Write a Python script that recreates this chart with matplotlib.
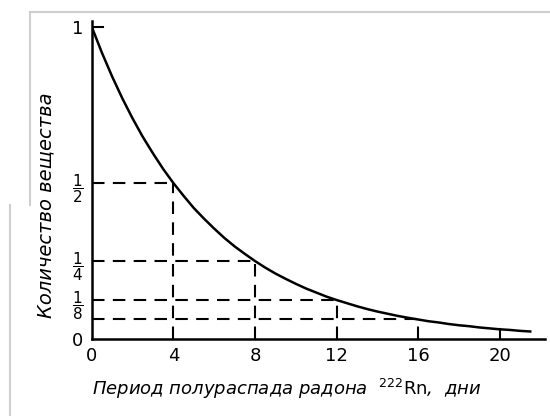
import matplotlib
matplotlib.use("Agg")
import matplotlib.pyplot as plt
from matplotlib.lines import Line2D

# кривая распада радона, точки (дни -> доля вещества)
days = [0, 0.5, 1, 1.5, 2, 2.5, 3, 3.5, 4, 4.5, 5, 5.5, 6, 6.5, 7, 7.5,
        8, 8.5, 9, 9.5, 10, 10.5, 11, 11.5, 12, 12.5, 13, 13.5, 14, 14.5,
        15, 15.5, 16, 16.5, 17, 17.5, 18, 18.5, 19, 19.5, 20, 20.5, 21, 21.5]
amount = [1.0, 0.917, 0.841, 0.771, 0.707, 0.648, 0.595, 0.545, 0.50,
          0.459, 0.420, 0.386, 0.354, 0.324, 0.297, 0.273, 0.25, 0.229,
          0.210, 0.193, 0.177, 0.162, 0.149, 0.136, 0.125, 0.115, 0.105,
          0.096, 0.088, 0.081, 0.074, 0.068, 0.0625, 0.057, 0.053, 0.048,
          0.044, 0.041, 0.037, 0.034, 0.031, 0.029, 0.026, 0.024]

# периоды полураспада и соответствующие доли
half_days = [4, 8, 12, 16]
half_vals = [1/2, 1/4, 1/8, 1/16]

x_ticks = [0, 4, 8, 12, 16, 20]
y_ticks = [0, 1/8, 1/4, 1/2, 1]
y_labels = ["0", r"$\dfrac{1}{8}$", r"$\dfrac{1}{4}$", r"$\dfrac{1}{2}$", "1"]

fig = plt.figure(figsize=(5.5, 4.19), dpi=100)
ax = fig.add_axes([0.167, 0.191, 0.823, 0.759])

ax.plot(days, amount, color="black", lw=1.8, solid_joinstyle="round")

for d, v in zip(half_days, half_vals):
    ax.plot([0, d], [v, v], color="black", lw=1.5, dashes=(6, 4))
    ax.plot([d, d], [0, v], color="black", lw=1.5, dashes=(6, 4))
# короткая отметка на 20 днях
ax.plot([20, 20], [0, 0.031], color="black", lw=1.5)
# засечка у единицы
ax.plot([0, 0.55], [1, 1], color="black", lw=1.5)

ax.set_xlim(0, 22.2)
ax.set_ylim(0, 1.02)
ax.spines["top"].set_visible(False)
ax.spines["right"].set_visible(False)
for s in ("left", "bottom"):
    ax.spines[s].set_linewidth(1.8)

ax.set_xticks(x_ticks)
ax.set_xticklabels([str(t) for t in x_ticks], fontsize=13)
ax.set_yticks(y_ticks)
ax.set_yticklabels(y_labels, fontsize=11)
ax.get_yticklabels()[0].set_fontsize(13)
ax.get_yticklabels()[-1].set_fontsize(13)
ax.tick_params(length=0, pad=6)

ax.set_xlabel(r"Период полураспада радона  $^{222}\mathrm{Rn}$,  дни",
              fontsize=13, fontstyle="italic")
ax.xaxis.set_label_coords(0.43, -0.12)
ax.set_ylabel("Количество вещества", fontsize=14, fontstyle="italic")
ax.yaxis.set_label_coords(-0.08, 0.42)

# светлая рамка скана
fig.add_artist(Line2D([0.055, 1.0], [0.972, 0.972], color="#cfcfcf", lw=1.5))
fig.add_artist(Line2D([0.055, 0.055], [0.972, 0.51], color="#cfcfcf", lw=1.5))
fig.add_artist(Line2D([0.018, 0.018], [0.51, 0.01], color="#cfcfcf", lw=1.5))

fig.savefig("out.png", dpi=100)
